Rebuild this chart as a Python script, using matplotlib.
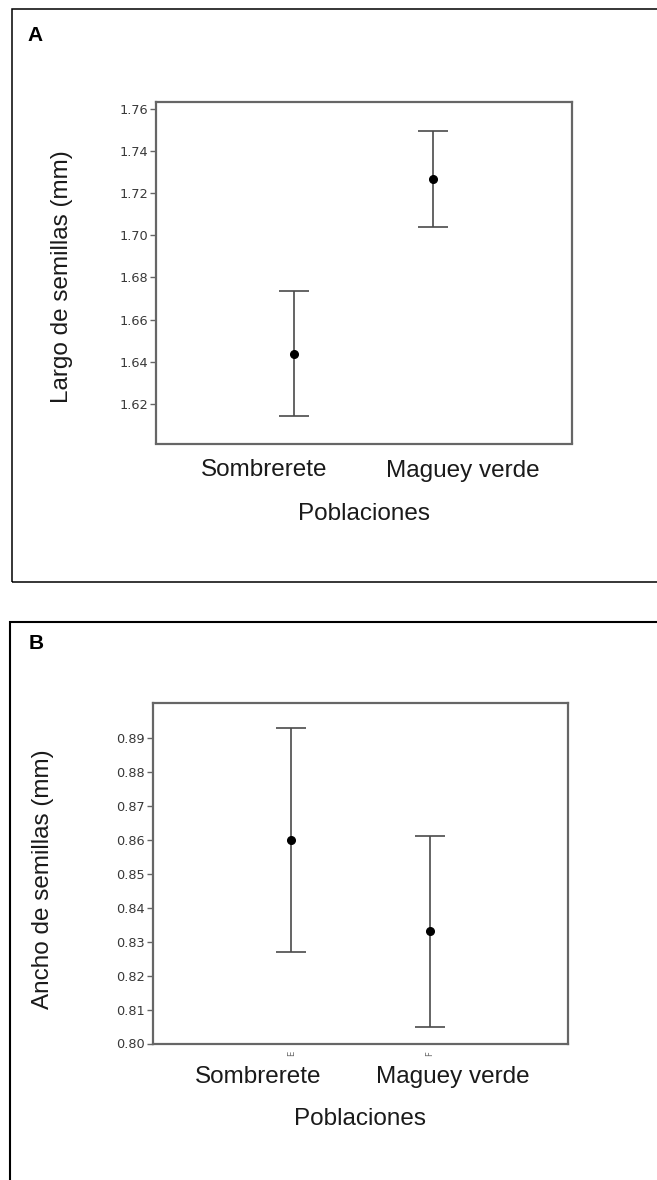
import numpy as np
from matplotlib import pyplot as plt
from matplotlib import transforms
from matplotlib.patches import Rectangle

poblaciones = ["Sombrerete", "Maguey verde"]

# Largo de semillas (mm): media e intervalo
largo_media = [1.6436, 1.7268]
largo_inf = [1.6143, 1.7040]
largo_sup = [1.6734, 1.7495]
largo_ticks = [1.62, 1.64, 1.66, 1.68, 1.70, 1.72, 1.74, 1.76]

# Ancho de semillas (mm): media e intervalo
ancho_media = [0.8600, 0.8331]
ancho_inf = [0.8269, 0.8048]
ancho_sup = [0.8929, 0.8612]
ancho_ticks = [0.80, 0.81, 0.82, 0.83, 0.84, 0.85, 0.86, 0.87, 0.88, 0.89]

W, H = 657, 1180
MAIN_FONT = ["Liberation Sans", "DejaVu Sans"]
SPINE = "#666666"
BAR = "#4a4a4a"


def px_axes(left, top, right, bottom):
    return [left / W, 1 - bottom / H, (right - left) / W, (bottom - top) / H]


def panel(fig, rect, media, inf, sup, ylim, ticks, fmt, ylabel,
          label_shift, label_dy, title_dy, ylabel_dx, ylabel_y):
    ax = fig.add_axes(rect)
    x = np.arange(1, len(media) + 1)
    media = np.array(media)
    err = [media - np.array(inf), np.array(sup) - media]
    ax.errorbar(x, media, yerr=err, fmt="o", color="black", markersize=5.5,
                ecolor=BAR, elinewidth=1.2, capsize=11, capthick=1.2)
    ax.set_xlim(0, 3)
    ax.set_ylim(*ylim)
    ax.set_yticks(ticks)
    ax.set_yticklabels([fmt.format(t) for t in ticks])
    ax.set_xticks([])
    ax.tick_params(axis="y", direction="out", length=4.5, width=1.0,
                   color=SPINE, labelsize=9.3, labelcolor="#383838", pad=1)
    for s in ax.spines.values():
        s.set_color(SPINE)
        s.set_linewidth(1.6)

    # category labels below the axis (offset from the markers as in the original)
    trans = transforms.blended_transform_factory(ax.transData, ax.transAxes)
    h_px = rect[3] * H
    for xi, name, dx in zip(x, poblaciones, label_shift):
        ax.text(xi + dx, -label_dy / h_px, name, transform=trans,
                ha="center", va="center", fontsize=17.5, family=MAIN_FONT,
                color="#1a1a1a")
    ax.text(0.5, -title_dy / h_px, "Poblaciones", transform=ax.transAxes,
            ha="center", va="center", fontsize=17.5, family=MAIN_FONT,
            color="#1a1a1a")
    w_px = rect[2] * W
    ax.text(-ylabel_dx / w_px, ylabel_y, ylabel, transform=ax.transAxes,
            rotation=90, ha="center", va="center", fontsize=17.5,
            family=MAIN_FONT, color="#1a1a1a")
    return ax, x, trans, h_px


fig = plt.figure(figsize=(W / 100, H / 100), dpi=100)

# outer frames
fig.patches.append(Rectangle((11.5 / W, 1 - 581.5 / H), 1.0, (581.5 - 9) / H,
                             transform=fig.transFigure, fill=False,
                             edgecolor="black", linewidth=1.1))
fig.patches.append(Rectangle((10 / W, -0.05), 1.0, 0.05 + (H - 621.7) / H,
                             transform=fig.transFigure, fill=False,
                             edgecolor="black", linewidth=1.5))
fig.text(27 / W, 1 - 35.5 / H, "A", fontsize=15, fontweight="bold",
         family=MAIN_FONT, ha="left", va="center")
fig.text(29 / W, 1 - 643.5 / H, "B", fontsize=15, fontweight="bold",
         family=MAIN_FONT, ha="left", va="center")

panel(fig, px_axes(155.5, 102, 571.7, 443.5), largo_media, largo_inf, largo_sup,
      (1.6010, 1.7635), largo_ticks, "{:.2f}", "Largo de semillas (mm)",
      label_shift=[-0.218, 0.216], label_dy=27, title_dy=70,
      ylabel_dx=93.5, ylabel_y=0.49)

axb, xb, transb, hb = panel(fig, px_axes(152.7, 703, 568, 1043.5), ancho_media,
                            ancho_inf, ancho_sup, (0.800, 0.9002), ancho_ticks,
                            "{:.2f}", "Ancho de semillas (mm)",
                            label_shift=[-0.239, 0.166], label_dy=33.5,
                            title_dy=75.5, ylabel_dx=109.7, ylabel_y=0.483)

# leftover letter marks under the B axis
for xi, mark in zip(xb, ["E", "F"]):
    axb.text(xi, -10 / hb, mark, transform=transb, rotation=90, ha="center",
             va="center", fontsize=6, color="#666666")

fig.savefig("out.png", dpi=100)
